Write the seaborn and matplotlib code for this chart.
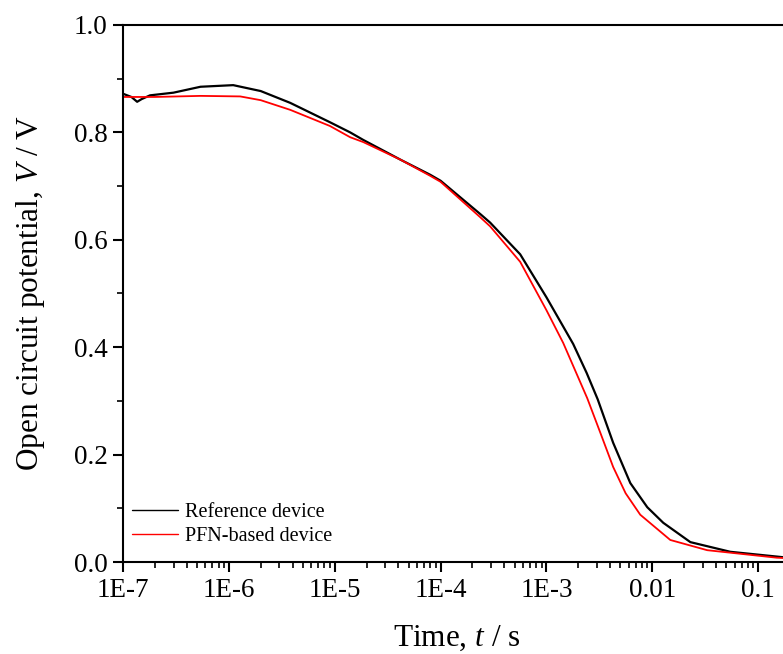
import numpy as np
import pandas as pd
import matplotlib
matplotlib.use("Agg")
import matplotlib.pyplot as plt
import seaborn as sns
from matplotlib.ticker import FixedLocator, LogLocator, MultipleLocator, NullFormatter

ref_t = [1e-7, 1.2e-7, 1.36e-7, 1.5e-7, 1.8e-7, 3e-7, 5.4e-7, 1.1e-6, 2e-6, 3.8e-6,
         9e-6, 1.4e-5, 1.86e-5, 4.2e-5, 8e-5, 1e-4, 2.37e-4, 2.94e-4, 5.65e-4, 1e-3,
         1.79e-3, 2.4e-3, 3.05e-3, 4.27e-3, 6.2e-3, 8.97e-3, 1.27e-2, 2.29e-2, 5.46e-2, 0.17, 0.2]
ref_v = [0.872, 0.866, 0.857, 0.862, 0.869, 0.874, 0.885, 0.888, 0.877, 0.855,
         0.819, 0.800, 0.786, 0.749, 0.721, 0.710, 0.648, 0.632, 0.573, 0.493,
         0.406, 0.352, 0.303, 0.222, 0.147, 0.102, 0.073, 0.037, 0.019, 0.009, 0.008]

pfn_t = [1e-7, 2e-7, 5.4e-7, 1.28e-6, 2e-6, 3.8e-6, 9e-6, 1.4e-5, 1.86e-5, 4.2e-5, 8e-5,
         1e-4, 2.37e-4, 2.94e-4, 5.65e-4, 1e-3, 1.44e-3, 2.43e-3, 3.24e-3, 4.27e-3,
         5.6e-3, 7.7e-3, 1.48e-2, 3.3e-2, 0.15, 0.2]
pfn_v = [0.866, 0.866, 0.868, 0.867, 0.860, 0.842, 0.812, 0.791, 0.782, 0.749, 0.719,
         0.708, 0.642, 0.625, 0.559, 0.469, 0.408, 0.305, 0.240, 0.177,
         0.128, 0.088, 0.041, 0.022, 0.008, 0.007]

x_ticks = [1e-7, 1e-6, 1e-5, 1e-4, 1e-3, 1e-2, 1e-1]
x_tick_labels = ["1E-7", "1E-6", "1E-5", "1E-4", "1E-3", "0.01", "0.1"]
y_ticks = [0.0, 0.2, 0.4, 0.6, 0.8, 1.0]
y_tick_labels = ["0.0", "0.2", "0.4", "0.6", "0.8", "1.0"]

sns.set_style("ticks")
plt.rcParams["font.family"] = ["Liberation Serif", "DejaVu Serif"]
plt.rcParams["mathtext.fontset"] = "custom"
plt.rcParams["mathtext.rm"] = "Liberation Serif"
plt.rcParams["mathtext.it"] = "Liberation Serif:italic"
plt.rcParams["text.color"] = "black"
plt.rcParams["axes.labelcolor"] = "black"
plt.rcParams["xtick.color"] = "black"
plt.rcParams["ytick.color"] = "black"

df_ref = pd.DataFrame({"t": ref_t, "v": ref_v})
df_pfn = pd.DataFrame({"t": pfn_t, "v": pfn_v})

fig = plt.figure(figsize=(7.83, 6.54), dpi=100)
W, H = 783, 654
ax = fig.add_axes([123 / W, 92 / H, 667 / W, 537 / H])

sns.lineplot(data=df_ref, x="t", y="v", ax=ax, color="black", linewidth=1.6,
             label="Reference device", estimator=None, sort=False)
sns.lineplot(data=df_pfn, x="t", y="v", ax=ax, color="red", linewidth=1.3,
             label="PFN-based device", estimator=None, sort=False)

ax.set_xscale("log")
ax.set_xlim(1e-7, 0.2)
ax.set_ylim(0.0, 1.0)
ax.xaxis.set_major_locator(FixedLocator(x_ticks))
ax.set_xticklabels(x_tick_labels)
ax.xaxis.set_minor_locator(LogLocator(base=10, subs=np.arange(2, 10)))
ax.xaxis.set_minor_formatter(NullFormatter())
ax.set_yticks(y_ticks)
ax.set_yticklabels(y_tick_labels)
ax.yaxis.set_minor_locator(MultipleLocator(0.1))

for s in ["left", "bottom", "top", "right"]:
    ax.spines[s].set_linewidth(1.5)
    ax.spines[s].set_color("black")
ax.tick_params(which="major", direction="out", length=7.2, width=1.5, labelsize=19.5,
               colors="black", pad=4)
ax.tick_params(which="minor", direction="out", length=4.5, width=1.2)
ax.tick_params(axis="x", which="both", top=False)
ax.tick_params(axis="y", which="both", right=False)

ax.set_xlabel("Time, $t$ / s", fontsize=22.5, labelpad=15)
ax.set_ylabel("Open circuit potential, $V$ / V", fontsize=22.5, labelpad=19)

leg = ax.legend(loc="lower left", bbox_to_anchor=(0.0135, 0.03), frameon=False, fontsize=14.5,
                handlelength=2.3, handletextpad=0.35, labelspacing=0.25, borderaxespad=0.0,
                borderpad=0.0)
for line in leg.get_lines():
    line.set_linewidth(1.0)

fig.savefig("out.png", dpi=100)
